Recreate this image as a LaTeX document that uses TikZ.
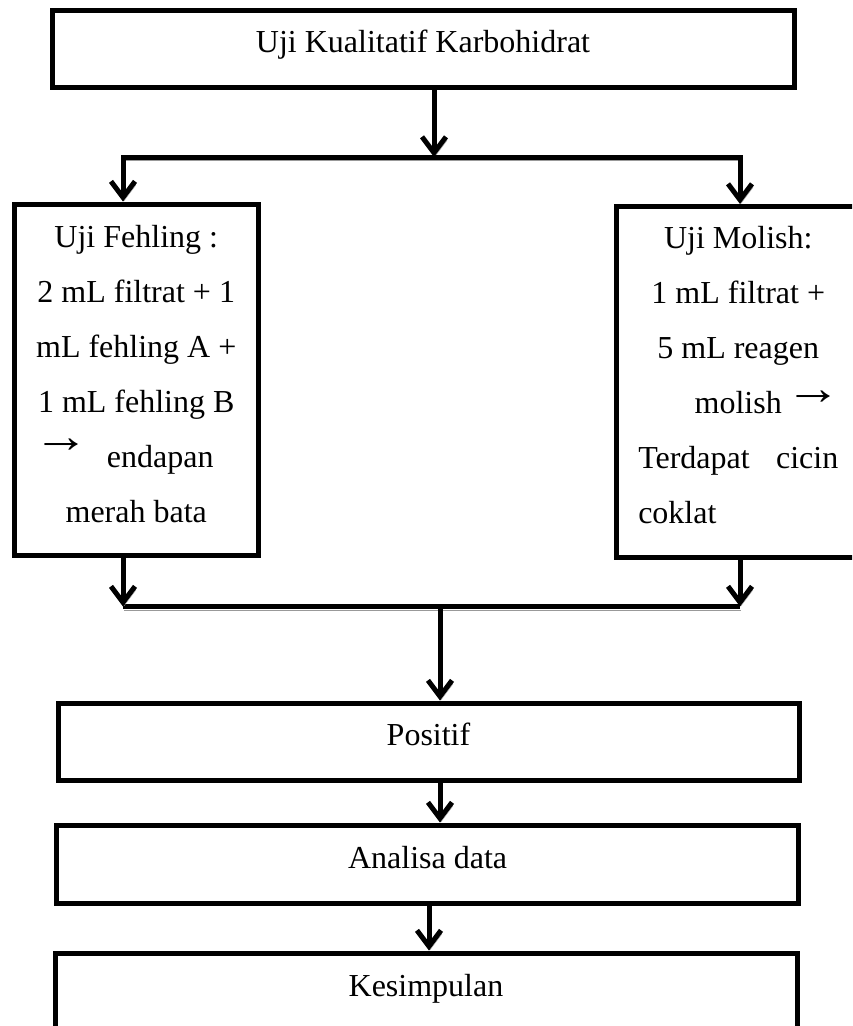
\documentclass[tikz,border=0pt]{standalone}
\usepackage{fontspec}
\setmainfont{Liberation Serif}
\usetikzlibrary{arrows.meta}
\definecolor{shade}{gray}{0.6}
% reaction arrow used inside the text
\newcommand{\yields}{\scalebox{1.75}[1.5]{→}}
\begin{document}
\begin{tikzpicture}[x=1pt,y=-1pt,
  txt/.style={font=\fontsize{32}{55}\selectfont},
  box/.style={draw=black, line width=5pt, inner sep=0pt, txt,
              text height=20pt, text depth=12pt},
  tallbox/.style={draw=black, line width=5pt, inner sep=0pt},
  lines/.style={txt, align=center, inner sep=0pt},
  shadowed/.style={preaction={draw=shade, transform canvas={xshift=1pt,yshift=-3.5pt}}},
  tip/.tip={Straight Barb[length=16pt,width=24pt]},
  link/.style={line width=5pt, line join=miter, shadowed, -tip},
  bar/.style={line width=5pt, shadowed}]

% page area
\path[use as bounding box, fill=white] (0,0) rectangle (852,1026);
\clip (0,0) rectangle (852,1026);

% process boxes
\node[box, minimum width=742pt, minimum height=77.5pt] (title) at (423,48.75)
  {Uji Kualitatif Karbohidrat};

\node[tallbox, minimum width=244.5pt, minimum height=351.5pt] (fehling) at (136.25,379.75) {};
\node[lines, anchor=north] (fehlingtext) at (136.25,225)
  {Uji Fehling :\\
   2 mL filtrat + 1\\
   mL fehling A +\\
   1 mL fehling B\\
   \makebox[200pt][l]{\hspace{-3pt}\raisebox{15pt}[0pt][0pt]{\makebox[73.75pt][l]{\yields}}endapan}\\
   merah bata};

\node[tallbox, minimum width=244.5pt, minimum height=351pt] (molish) at (738.25,382) {};
\node[lines, anchor=north] (molishtext) at (738.25,226)
  {Uji Molish:\\
   1 mL filtrat +\\
   5 mL reagen\\
   molish\rlap{\hspace{4pt}\raisebox{9pt}[0pt][0pt]{\yields}}\\
   \makebox[200pt][s]{Terdapat\hfill cicin}\\
   \makebox[200pt][l]{coklat}};

\node[box, minimum width=741pt, minimum height=77pt] (positif) at (428.5,741.5) {Positif};
\node[box, minimum width=742pt, minimum height=78pt] (analisa) at (427.6,864) {Analisa data};
\node[box, minimum width=742pt, minimum height=78pt] (kesimpulan) at (426,992) {Kesimpulan};

% branching points
\coordinate (split)  at (434,157);
\coordinate (splitL) at (123,157);
\coordinate (splitR) at (740,157);
\coordinate (joinL)  at (123,606.5);
\coordinate (joinR)  at (740,606.5);
\coordinate (join)   at (440,606.5);
\coordinate (c1)     at (440,0);
\coordinate (c2)     at (429,0);

% connectors
\draw[link] (title.south -| split) -- (split);
\draw[link, tip-tip] (splitL |- fehling.north) -- (splitL) -- (splitR) -- (splitR |- molish.north);

\draw[bar] (joinL) -- (joinR);
\draw[link] (fehling.south -| joinL) -- (joinL);
\draw[link] (molish.south -| joinR) -- (joinR);
\draw[link] (join) -- (join |- positif.north);

\draw[link] (positif.south -| c1) -- (analisa.north -| c1);
\draw[link] (analisa.south -| c2) -- (kesimpulan.north -| c2);
\end{tikzpicture}
\end{document}
